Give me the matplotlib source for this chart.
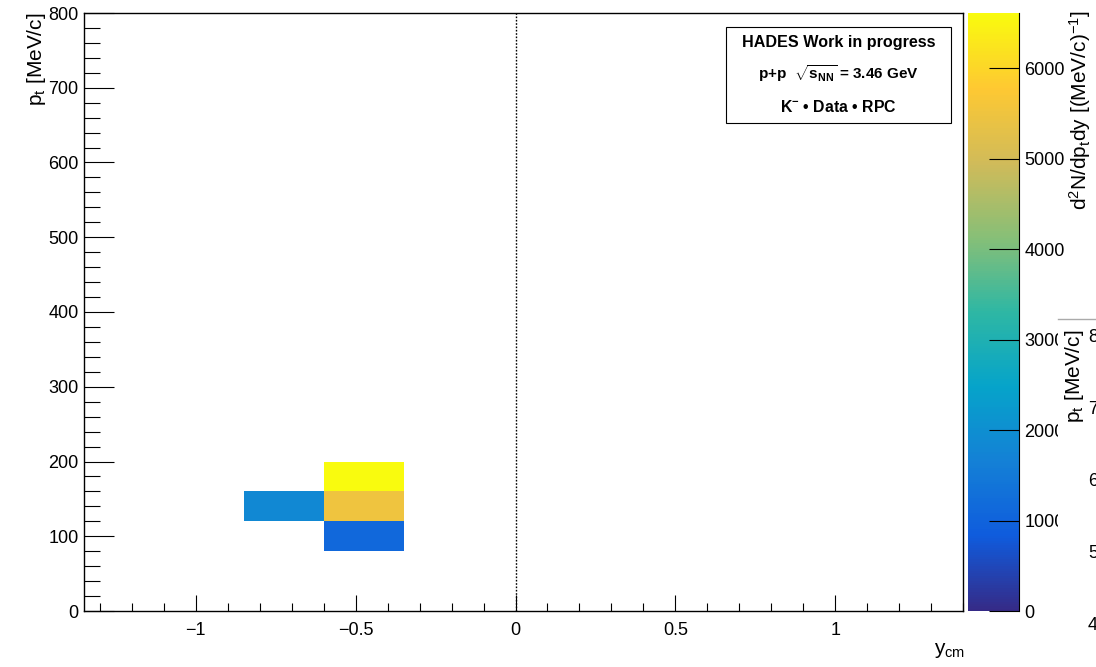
import numpy as np
import matplotlib
matplotlib.use("Agg")
import matplotlib.pyplot as plt
from matplotlib.colors import LinearSegmentedColormap
from matplotlib.patches import Rectangle
from matplotlib.lines import Line2D
from matplotlib.ticker import MultipleLocator

plt.rcParams['font.family'] = ['Liberation Sans', 'DejaVu Sans']
plt.rcParams['mathtext.fontset'] = 'custom'
plt.rcParams['mathtext.rm'] = 'Liberation Sans'
plt.rcParams['mathtext.it'] = 'Liberation Sans:italic'
plt.rcParams['mathtext.bf'] = 'Liberation Sans:bold'

# Binning of the rapidity / transverse-momentum histogram
y_edges = np.arange(-1.35, 1.40 + 1e-9, 0.25)
pt_edges = np.arange(0, 800 + 1e-9, 40)

# Filled cells: rapidity centre, pt centre [MeV/c], yield
cell_y = [-0.725, -0.475, -0.475, -0.475]
cell_pt = [140, 100, 140, 180]
cell_val = [1820, 1110, 5520, 6610]
z_max = 6610

# ROOT "kBird" palette
stops = [0.0, 0.125, 0.25, 0.375, 0.5, 0.625, 0.75, 0.875, 1.0]
red = [0.2082, 0.0592, 0.0780, 0.0232, 0.1802, 0.5301, 0.8186, 0.9956, 0.9764]
green = [0.1664, 0.3599, 0.5041, 0.6419, 0.7178, 0.7492, 0.7328, 0.7862, 0.9832]
blue = [0.5293, 0.8684, 0.8385, 0.7914, 0.6425, 0.4662, 0.3499, 0.1968, 0.0539]
bird = LinearSegmentedColormap.from_list(
    "bird", [(s, (r, g, b)) for s, r, g, b in zip(stops, red, green, blue)], N=255)

H, _, _ = np.histogram2d(cell_y, cell_pt, bins=[y_edges, pt_edges], weights=cell_val)
H = np.ma.masked_where(H <= 0, H)

W, Hpx = 1096, 667
fig = plt.figure(figsize=(W / 100, Hpx / 100), dpi=100)

def fx(px):
    return px / W

def fy(py):
    return 1 - py / Hpx

ax = fig.add_axes([fx(84), fy(611), fx(963) - fx(84), fy(13) - fy(611)])
mesh = ax.pcolormesh(y_edges, pt_edges, H.T, cmap=bird, vmin=0, vmax=z_max,
                     edgecolors='none')
ax.set_xlim(-1.35, 1.40)
ax.set_ylim(0, 800)
ax.axvline(0, color='black', lw=1.0, ls=(0, (1.2, 1.2)))

ax.xaxis.set_major_locator(MultipleLocator(0.5))
ax.xaxis.set_minor_locator(MultipleLocator(0.1))
ax.yaxis.set_major_locator(MultipleLocator(100))
ax.yaxis.set_minor_locator(MultipleLocator(20))
ax.tick_params(which='both', direction='in', top=False, right=False,
               labelsize=13, color='black', width=0.8)
ax.tick_params(axis='x', which='major', length=11.5, pad=8)
ax.tick_params(axis='x', which='minor', length=5.8)
ax.tick_params(axis='y', which='major', length=21.6, pad=4)
ax.tick_params(axis='y', which='minor', length=11.3)
ax.set_xticks([-1, -0.5, 0, 0.5, 1])
ax.set_xticklabels(['\u22121', '\u22120.5', '0', '0.5', '1'])
for s in ax.spines.values():
    s.set_linewidth(1.0)

fig.text(fx(950), fy(650), r'y$_{\mathregular{cm}}$', fontsize=15, ha='center', va='center')
fig.text(fx(36), fy(13), r'p$_{\mathregular{t}}$ [MeV/c]', fontsize=15, rotation=90,
         ha='center', va='top')

# Colour scale
cax = fig.add_axes([fx(968), fy(611), fx(1019) - fx(968), fy(13) - fy(611)])
cb = fig.colorbar(mesh, cax=cax)
cb.outline.set_visible(False)
cax.spines['right'].set_visible(True)
cax.set_yticks(np.arange(0, 6001, 1000))
cax.tick_params(axis='y', direction='in', length=21.6, width=0.8, labelsize=13, pad=4,
                right=True, left=False)
fig.text(fx(1080), fy(10), r'd$^{\mathregular{2}}$N/dp$_{\mathregular{t}}$dy [(MeV/c)$^{\mathregular{-1}}$]',
         fontsize=15, rotation=90, ha='center', va='top')

# Info box
fig.add_artist(Rectangle((fx(726), fy(123)), fx(951) - fx(726), fy(27) - fy(123),
                         transform=fig.transFigure, facecolor='white',
                         edgecolor='black', lw=0.8))
cx = fx(838.5)
fig.text(cx, fy(43), 'HADES Work in progress', fontsize=11.6, weight='bold',
         ha='center', va='center')
fig.text(cx, fy(74), r'p+p  $\mathbf{\sqrt{s_{NN}}}$ = 3.46 GeV', fontsize=11,
         weight='bold', ha='center', va='center')
fig.text(cx, fy(107), r'K$^{\mathbf{-}}$ • Data • RPC', fontsize=11.4, weight='bold',
         ha='center', va='center')

# Neighbouring pad partly visible at the right edge
fig.add_artist(Rectangle((fx(1058), 0), 1 - fx(1058), fy(319), transform=fig.transFigure,
                         facecolor='white', edgecolor='none', zorder=5))
fig.add_artist(Line2D([fx(1058), 1.0], [fy(319), fy(319)], transform=fig.transFigure,
                      color='#aaaaaa', lw=1.0, zorder=6))
fig.text(fx(1075), fy(330), r'p$_{\mathregular{t}}$ [MeV/c]', fontsize=15, rotation=90,
         ha='center', va='top', zorder=7)
for lab, py in zip(['8', '7', '6', '5', '4'], [338, 410, 482, 554, 626]):
    fig.text(fx(1088), fy(py), lab, fontsize=13, ha='left', va='center', zorder=7)

fig.savefig('out.png', dpi=100)
